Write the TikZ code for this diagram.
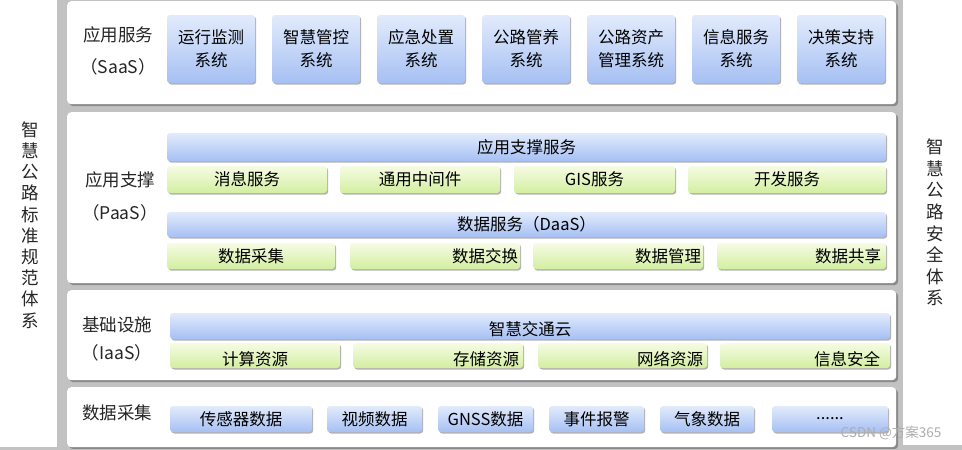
\documentclass[tikz,border=0pt]{standalone}
\usepackage{fontspec}
\setmainfont{Noto Sans CJK SC}
\usetikzlibrary{shadows}
\definecolor{bgc}{HTML}{C2C2C2}
\definecolor{btop}{HTML}{E2EBFC}
\definecolor{bbot}{HTML}{A6C0F3}
\definecolor{gtop}{HTML}{F6FCE4}
\definecolor{gbot}{HTML}{D3EEA0}
\tikzset{
  panel/.style={fill=white, rounded corners=4pt, inner sep=0pt, anchor=north west,
    drop shadow={shadow xshift=2pt, shadow yshift=-2pt, fill=black!60, opacity=0.6}},
  side/.style={fill=white, inner sep=0pt, anchor=north west},
  boxbase/.style={rounded corners=3pt, inner sep=0pt, align=center,
    drop shadow={shadow xshift=1.2pt, shadow yshift=-1.5pt, fill=black, opacity=0.3}},
  bbox/.style={boxbase, top color=btop, bottom color=bbot, font=\fontsize{16.5}{23}\selectfont},
  gbox/.style={boxbase, top color=gtop, bottom color=gbot, font=\fontsize{16.5}{20}\selectfont},
  gright/.style={gbox, align=right, inner xsep=#1},
  lowtext/.style={text height=19pt, text depth=0pt},
  lbl/.style={font=\fontsize{17.5}{20}\selectfont, text=black!85},
  vtext/.style={font=\fontsize{17.5}{21.2}\selectfont, text width=18pt, align=center, inner sep=0pt, text=black!85},
}
\begin{document}
\begin{tikzpicture}[x=1pt,y=-1pt]
\fill[bgc] (0,0) rectangle (962,450);
\useasboundingbox (0,0) rectangle (962,450);
% side columns
\node[side, minimum width=57, minimum height=447] (left) at (0,0) {};
\node[side, minimum width=59, minimum height=445] (right) at (903,0) {};
\node[vtext] (lefttxt) at (30,225) {智\\慧\\公\\路\\标\\准\\规\\范\\体\\系};
\node[vtext, font=\fontsize{17.5}{21.6}\selectfont] (righttxt) at (935,222.5) {智\\慧\\公\\路\\安\\全\\体\\系};
% panels
\node[panel, minimum width=829, minimum height=103] (p1) at (67,1) {};
\node[panel, minimum width=829, minimum height=171] (p2) at (67,112) {};
\node[panel, minimum width=829, minimum height=90] (p3) at (67,290) {};
\node[panel, minimum width=829, minimum height=60] (p4) at (67,387) {};
% SaaS
\node[lbl] (l1a) at (118,35) {应用服务};
\node[lbl] (l1b) at (118,67) {（SaaS）};
\foreach \x/\t [count=\i] in {211/{运行监测\\系统}, 316/{智慧管控\\系统}, 421/{应急处置\\系统}, 526/{公路管养\\系统}, 631/{公路资产\\管理系统}, 736/{信息服务\\系统}, 841/{决策支持\\系统}}
  \node[bbox, minimum width=88, minimum height=68] (s\i) at (\x,49) {\t};
% PaaS
\node[lbl] (l2a) at (120,180) {应用支撑};
\node[lbl] (l2b) at (120,213) {（PaaS）};
\node[bbox, minimum width=719, minimum height=28] (asf) at (526.5,147) {应用支撑服务};
\node[gbox, minimum width=160, minimum height=27] (g1) at (247,179.5) {消息服务};
\node[gbox, minimum width=160, minimum height=27] (g2) at (420,179.5) {通用中间件};
\node[gbox, minimum width=161, minimum height=27] (g3) at (594.5,179.5) {GIS服务};
\node[gbox, minimum width=198, minimum height=27] (g4) at (787,179.5) {开发服务};
\node[bbox, minimum width=719, minimum height=25] (daas) at (526.5,224.5) {数据服务（DaaS）};
\node[gbox, minimum width=168, minimum height=26] (d1) at (251,256) {数据采集};
\node[gright=2pt, text width=166pt, minimum height=26] (d2) at (435,256) {数据交换};
\node[gright=2pt, text width=166pt, minimum height=26] (d3) at (618,256) {数据管理};
\node[gright=5pt, text width=159pt, minimum height=26] (d4) at (801.5,256) {数据共享};
% IaaS
\node[lbl] (l3a) at (117,325) {基础设施};
\node[lbl] (l3b) at (117,353) {（IaaS）};
\node[bbox, lowtext, minimum width=720, minimum height=26] (cloud) at (530,326) {智慧交通云};
\node[gbox, lowtext, minimum width=170, minimum height=25] (i1) at (255,355.5) {计算资源};
\node[gright=4pt, lowtext, text width=162pt, minimum height=25] (i2) at (438,355.5) {存储资源};
\node[gright=4pt, lowtext, text width=161pt, minimum height=25] (i3) at (622.5,355.5) {网络资源};
\node[gright=10pt, lowtext, text width=150pt, minimum height=25] (i4) at (805,355.5) {信息安全};
% data collection
\node[lbl] (l4a) at (117,413) {数据采集};
\foreach \x/\w/\t [count=\i] in {241/142/传感器数据, 374.5/95/视频数据, 485.5/95/GNSS数据, 596.5/95/事件报警, 707/94/气象数据, 830/116/{......}}
  \node[bbox, minimum width=\w, minimum height=26, font=\fontsize{16.5}{20}\selectfont] (c\i) at (\x,419) {\t};
\node[font=\fontsize{13.5}{15}\selectfont, text=black!32] (wm) at (891,433) {CSDN @方案365};
\end{tikzpicture}
\end{document}
